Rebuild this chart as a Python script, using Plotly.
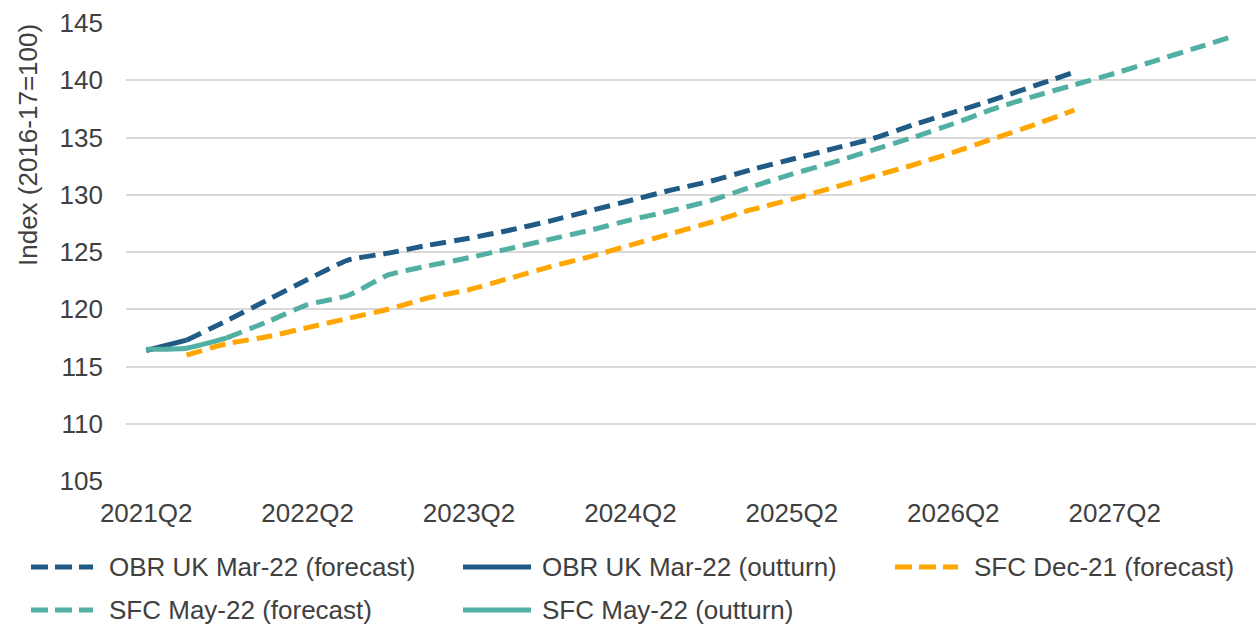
import plotly.graph_objects as go

# Quarterly categories on the x axis
quarters = [
    "2021Q2", "2021Q3", "2021Q4", "2022Q1",
    "2022Q2", "2022Q3", "2022Q4", "2023Q1",
    "2023Q2", "2023Q3", "2023Q4", "2024Q1",
    "2024Q2", "2024Q3", "2024Q4", "2025Q1",
    "2025Q2", "2025Q3", "2025Q4", "2026Q1",
    "2026Q2", "2026Q3", "2026Q4", "2027Q1",
    "2027Q2", "2027Q3", "2027Q4", "2028Q1",
]
tick_labels = ["2021Q2", "2022Q2", "2023Q2", "2024Q2", "2025Q2", "2026Q2", "2027Q2"]
y_ticks = [105, 110, 115, 120, 125, 130, 135, 140, 145]

# Index values (2016-17 = 100)
obr_outturn_q = quarters[0:2]
obr_outturn = [116.4, 117.3]

obr_forecast_q = quarters[1:24]
obr_forecast = [117.3, 119.0, 120.8, 122.6, 124.3, 124.9, 125.6, 126.2, 126.9,
                127.7, 128.6, 129.5, 130.4, 131.2, 132.2, 133.1, 134.0, 134.9,
                136.1, 137.2, 138.3, 139.5, 140.7]

sfc_dec21_q = quarters[1:24]
sfc_dec21 = [116.0, 117.0, 117.6, 118.4, 119.2, 120.0, 121.0, 121.7, 122.7,
             123.7, 124.6, 125.6, 126.6, 127.6, 128.7, 129.6, 130.6, 131.6,
             132.6, 133.7, 134.9, 136.1, 137.4]

sfc_may22_outturn_q = quarters[0:3]
sfc_may22_outturn = [116.5, 116.6, 117.5]

sfc_may22_forecast_q = quarters[2:28]
sfc_may22_forecast = [117.5, 118.9, 120.4, 121.2, 123.0, 123.8, 124.5, 125.3,
                      126.1, 126.9, 127.8, 128.6, 129.5, 130.7, 131.8, 132.8,
                      133.9, 135.0, 136.2, 137.5, 138.6, 139.6, 140.6, 141.7,
                      142.8, 143.9]

DARK = "#1F5B85"
TEAL = "#52AFA3"
ORANGE = "#FFA600"
TEXT = "#404040"
FONT = "Liberation Sans, Arial, sans-serif"
DASH = "16px,8px"
LW = 5

W, H = 1256, 625
ML, MR, MT, MB = 126, 0, 23, 144
PW, PH = W - ML - MR, H - MT - MB


def px_x(px):
    return (px - ML) / PW


def px_y(py):
    return (H - MB - py) / PH


series = [
    ("OBR UK Mar-22 (forecast)", obr_forecast_q, obr_forecast, DARK, DASH),
    ("OBR UK Mar-22 (outturn)", obr_outturn_q, obr_outturn, DARK, "solid"),
    ("SFC Dec-21 (forecast)", sfc_dec21_q, sfc_dec21, ORANGE, DASH),
    ("SFC May-22 (forecast)", sfc_may22_forecast_q, sfc_may22_forecast, TEAL, DASH),
    ("SFC May-22 (outturn)", sfc_may22_outturn_q, sfc_may22_outturn, TEAL, "solid"),
]

fig = go.Figure()
for name, xs, ys, color, dash in series:
    fig.add_trace(go.Scatter(
        x=xs, y=ys, name=name, mode="lines",
        line=dict(color=color, width=LW, dash=dash, shape="spline", smoothing=0.5),
        showlegend=False, hoverinfo="x+y+name",
    ))

# Legend drawn as line samples plus labels below the plot
legend_slots = [
    (31, 93, 107, 567),
    (463, 531, 540, 567),
    (895, 958, 972, 567),
    (31, 93, 107, 610),
    (463, 531, 540, 610),
]
shapes = []
annotations = []
for (name, _, _, color, dash), (sx0, sx1, tx, yy) in zip(series, legend_slots):
    shapes.append(dict(
        type="line", xref="paper", yref="paper",
        x0=px_x(sx0), x1=px_x(sx1), y0=px_y(yy), y1=px_y(yy),
        line=dict(color=color, width=LW, dash="17px,7px" if dash != "solid" else "solid"),
    ))
    annotations.append(dict(
        text=name, xref="paper", yref="paper", x=px_x(tx), y=px_y(yy),
        xanchor="left", yanchor="middle", showarrow=False,
        font=dict(family=FONT, size=26, color=TEXT),
    ))

annotations.append(dict(
    text="Index (2016-17=100)", xref="paper", yref="paper",
    x=px_x(28), y=px_y(145), xanchor="center", yanchor="middle",
    textangle=-90, showarrow=False,
    font=dict(family=FONT, size=26, color=TEXT),
))

fig.update_layout(
    width=W, height=H,
    margin=dict(l=ML, r=MR, t=MT, b=MB),
    paper_bgcolor="white", plot_bgcolor="white",
    font=dict(family=FONT, size=26, color=TEXT),
    showlegend=False,
    shapes=shapes,
    annotations=annotations,
    xaxis=dict(
        type="category", categoryorder="array", categoryarray=quarters,
        range=[-0.5, len(quarters) - 0.5],
        tickmode="array", tickvals=tick_labels, ticktext=tick_labels,
        showgrid=False, zeroline=False, showline=False, ticks="",
        ticklabelstandoff=14,
        tickfont=dict(family=FONT, size=26, color=TEXT),
    ),
    yaxis=dict(
        range=[105, 145], tickmode="array", tickvals=y_ticks,
        showgrid=True, gridcolor="#D9D9D9", gridwidth=1.5,
        zeroline=False, showline=False, ticks="",
        ticklabelstandoff=22,
        tickfont=dict(family=FONT, size=26, color=TEXT),
    ),
)

fig.write_html("out.html")
